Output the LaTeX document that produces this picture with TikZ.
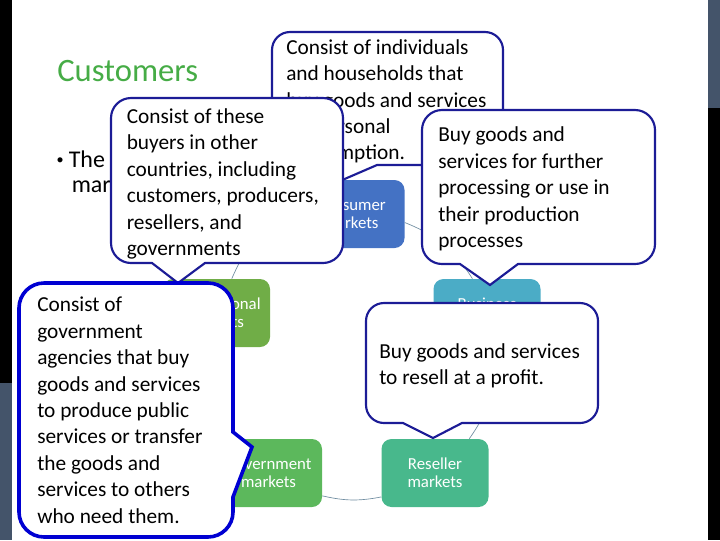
\documentclass[tikz,border=0pt]{standalone}
\usepackage{fontspec}
\setmainfont{Carlito}
\newfontfamily\bulletfont{Liberation Sans}
\definecolor{slate}{HTML}{44546A}
\definecolor{titlegreen}{RGB}{70,172,70}
\definecolor{consC}{HTML}{4472C4}
\definecolor{busC}{HTML}{4BACC6}
\definecolor{resC}{RGB}{72,184,140}
\definecolor{govC}{RGB}{92,184,92}
\definecolor{intC}{HTML}{70AD47}
\definecolor{callblue}{RGB}{28,28,150}
\definecolor{govblue}{RGB}{0,0,210}
\definecolor{connC}{RGB}{110,140,160}
% bottom-pointer callout: x1,y1,x2,y2,r, base right x, tip x, tip y, base left x
\newcommand\bcallpath[9]{(#1+#5,#2) -- (#3-#5,#2) arc[start angle=-90,end angle=0,radius=#5]
  -- (#3,#4-#5) arc[start angle=0,end angle=90,radius=#5]
  -- (#6,#4) -- (#7,#8) -- (#9,#4)
  -- (#1+#5,#4) arc[start angle=90,end angle=180,radius=#5]
  -- (#1,#2+#5) arc[start angle=180,end angle=270,radius=#5] -- cycle}
% right-pointer callout: x1,y1,x2,y2,r, base top y, tip x, tip y, base bottom y
\newcommand\rcallpath[9]{(#1+#5,#2) -- (#3-#5,#2) arc[start angle=-90,end angle=0,radius=#5]
  -- (#3,#6) -- (#7,#8) -- (#3,#9)
  -- (#3,#4-#5) arc[start angle=0,end angle=90,radius=#5]
  -- (#1+#5,#4) arc[start angle=90,end angle=180,radius=#5]
  -- (#1,#2+#5) arc[start angle=180,end angle=270,radius=#5] -- cycle}
\begin{document}
\begin{tikzpicture}[x=0.75pt,y=-0.75pt,
  mk/.style={rounded corners=7.5pt, minimum width=80.25pt, minimum height=51pt,
    inner sep=0pt, text=white, align=center, font=\fontsize{12.6}{13.7}\selectfont},
  conn/.style={draw=connC, line width=0.5pt},
  callframe/.style={fill=white, draw=callblue, line width=1.6pt},
  govframe/.style={fill=white, draw=govblue, line width=2.7pt},
  ctext/.style={anchor=north west, inner sep=0pt, align=left, text=black,
    font=\fontsize{16}{19.8}\selectfont}]
\useasboundingbox (0,0) rectangle (720,540);
% side strips
\fill[black] (0,0) rectangle (12,383);
\fill[slate] (0,383) rectangle (12,540);
\fill[slate] (708,0) rectangle (720,108);
\fill[black] (708,108) rectangle (720,540);
% title and bullet
\node[anchor=base west, inner sep=0pt, text=titlegreen, font=\fontsize{24.5}{28}\selectfont] (title) at (57,81.7) {Customers};
\node[anchor=base west, inner sep=0pt, font=\bulletfont\fontsize{14}{18}\selectfont] (bul) at (56.5,166) {•};
\node[anchor=base west, inner sep=0pt, font=\fontsize{18}{22}\selectfont] (bl1) at (68.5,167) {The};
\node[anchor=base west, inner sep=0pt, font=\fontsize{18}{22}\selectfont] (bl2) at (71.5,192) {mar};
% cycle nodes
\node[mk, fill=consC] (cons) at (351,214) {Consumer\\markets};
\node[mk, fill=busC] (bus) at (487,313) {Business\\markets};
\node[mk, fill=resC] (res) at (435,473) {Reseller\\markets};
\node[mk, fill=govC] (gov) at (268.5,473) {Government\\markets};
\node[mk, fill=intC] (int) at (216.5,313) {International\\markets};
% connectors
\draw[conn] (cons.-9.5) to[bend left=17.8] (bus.113);
\draw[conn] (bus.-77.2) to[bend left=19.6] (res.45.5);
\draw[conn] (res.-156.9) to[bend left=11.9] (gov.-23.3);
\draw[conn] (gov.134.1) to[bend left=19.6] (int.-102);
\draw[conn] (int.66.2) to[bend left=17.6] (cons.169.8);
% consumer callout
\draw[callframe] \bcallpath{272}{32}{503}{165}{18}{377}{340}{181}{312};
\node[ctext] (tcons) at (286,35.5) {\strut Consist of individuals\\\strut and households that\\\strut buy goods and services\\\strut for personal\\\strut consumption.};
% international callout
\draw[callframe] \bcallpath{111}{98}{343}{263}{20}{205}{178}{283}{152};
\node[ctext] (tint) at (126.5,104.8) {\strut Consist of these\\\strut buyers in other\\\strut countries, including\\\strut customers, producers,\\\strut resellers, and\\\strut governments};
% business callout
\draw[callframe] \bcallpath{422}{110}{655}{264}{20}{518}{490}{285}{460};
\node[ctext] (tbus) at (438,123.2) {\strut Buy goods and\\\strut services for further\\\strut processing or use in\\\strut their production\\\strut processes};
% reseller callout
\draw[callframe] \bcallpath{366}{303}{598}{423}{18}{462}{433}{438}{403};
\node[ctext] (tres) at (379,339.5) {\strut Buy goods and services\\\strut to resell at a profit.};
% government callout
\draw[govframe] \rcallpath{19}{283}{233}{537}{25}{432}{252}{447}{497};
\node[ctext] (tgov) at (37,293.2) {\strut Consist of\\\strut government\\\strut agencies that buy\\\strut goods and services\\\strut to produce public\\\strut services or transfer\\\strut the goods and\\\strut services to others\\\strut who need them.};
\end{tikzpicture}
\end{document}
